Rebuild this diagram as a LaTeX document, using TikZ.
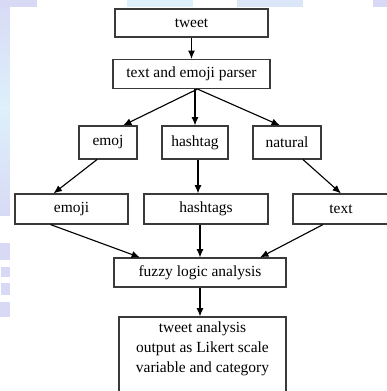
\documentclass[tikz,border=0pt]{standalone}
\usepackage{fontspec}
\setmainfont{Liberation Serif}
\usetikzlibrary{positioning}
\usetikzlibrary{calc}
\usetikzlibrary{arrows.meta}
\definecolor{lavbg}{HTML}{D8DAF5}
\definecolor{cyanbg}{HTML}{DDF0FB}
\definecolor{boxline}{HTML}{3A3A3A}

\begin{document}
\begin{tikzpicture}[x=0.025cm, y=-0.025cm,
                        every node/.style={draw=boxline, line width=0.8pt, rectangle, inner sep=0pt,
                                           font=\fontsize{11}{14.2}\selectfont, align=center},
                        boxsize/.style 2 args={minimum width=#1*0.025cm, minimum height=#2*0.025cm},
                        flow/.style={draw=black, line width=0.8pt, -{Latex[length=6pt,width=5pt]}}]
        \clip (0,0) rectangle (387,391);
        \fill[white] (0,0) rectangle (387,391);
        % slide background
        \shade[top color=lavbg, bottom color=lavbg, middle color=cyanbg] (0,0) rectangle (10,215);
        \fill[lavbg] (0,0) rectangle (37,7);
        \fill[cyanbg] (127,0) rectangle (193,7);
        \fill[cyanbg!60!lavbg] (237,0) rectangle (303,7);
        \fill[lavbg] (373,0) rectangle (387,7);
        \fill[lavbg] (0,243) rectangle (10,260);
        \fill[lavbg] (1,267) rectangle (10,277);
        \fill[lavbg] (1,283) rectangle (10,295);
        \fill[lavbg] (0,302) rectangle (10,317);

        \node (tweet) [boxsize={153}{28}] at (191.5,23) {tweet};
        \node (parser) [boxsize={157}{29}] at (191.5,74) {text and emoji parser};
        \node (emoj) [boxsize={58}{33}] at (108,142.5) {emoj};
        \node (hashtag) [boxsize={66}{33}] at (195,142.5) {hashtag};
        \node (natural) [boxsize={68}{33}] at (287,142.5) {natural};
        \node (emoji) [boxsize={113}{30}] at (71.5,209) {emoji};
        \node (hashtags) [boxsize={124}{30}] at (206,209) {hashtags};
        \node (text) [boxsize={96}{30}] at (341,209) {text};
        \node (fuzzy) [boxsize={172}{29}] at (200,272.5) {fuzzy logic analysis};
        \node (output) [boxsize={167}{76}, text depth=11pt] at (202.5,355)
            {tweet analysis\\output as Likert scale\\variable and category};

        \draw[flow] (tweet) -- (parser);
        \draw[flow] ($(parser.south)+(6,0)$) -- ($(emoj.north)+(15,0)$);
        \draw[flow] (hashtag.north |- parser.south) -- (hashtag.north);
        \draw[flow] ($(parser.south)+(6,0)$) -- ($(natural.north)+(-7,0)$);
        \draw[flow] ($(emoj.south)+(-11,0)$) -- ($(emoji.north)+(-18,0)$);
        \draw[flow] ($(hashtag.south)+(3,0)$) -- ($(hashtags.north)+(-8,0)$);
        \draw[flow] ($(natural.south)+(16,0)$) -- (text.north);
        \draw[flow] ($(emoji.south)+(-21,0)$) -- ($(fuzzy.north)+(-60,0)$);
        \draw[flow] (fuzzy.north |- hashtags.south) -- (fuzzy.north);
        \draw[flow] ($(text.south)+(-18,0)$) -- ($(fuzzy.north)+(60,0)$);
        \draw[flow] (fuzzy.south) -- (fuzzy.south |- output.north);
    \end{tikzpicture}
\end{document}
